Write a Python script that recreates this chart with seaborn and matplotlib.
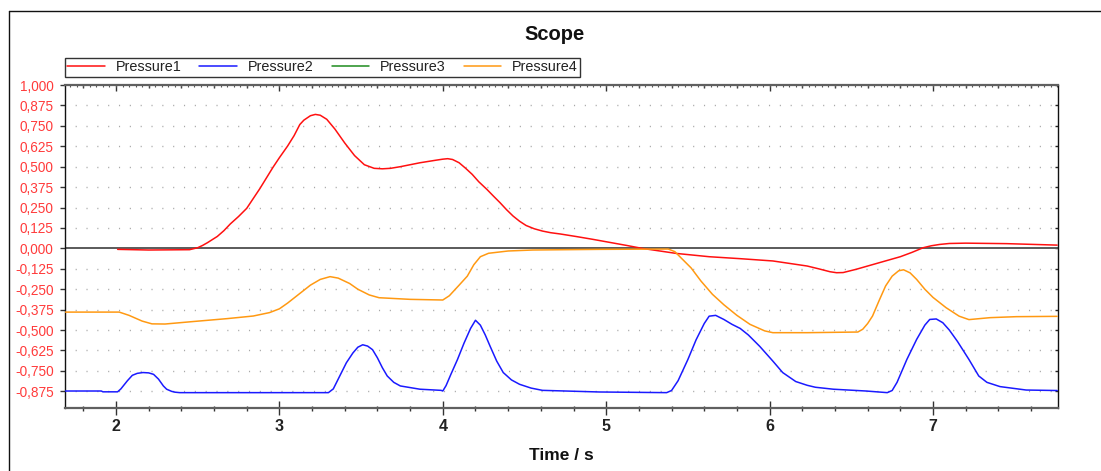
import numpy as np
import pandas as pd
import matplotlib
matplotlib.use("Agg")
import matplotlib.pyplot as plt
from matplotlib.lines import Line2D
from matplotlib.ticker import FixedLocator, MultipleLocator, FuncFormatter
import seaborn as sns

# ---- signal data (time in s, pressure in normalised units) ----
p1_t = [2.01, 2.20, 2.45, 2.50, 2.53, 2.56, 2.62, 2.66, 2.70, 2.75, 2.80, 2.88, 2.92, 2.96,
        3.00, 3.05, 3.09, 3.125, 3.15, 3.19, 3.22, 3.25, 3.29, 3.34, 3.40, 3.46, 3.52, 3.58,
        3.63, 3.68, 3.74, 3.86, 3.96, 4.00, 4.03, 4.06, 4.10, 4.14, 4.18, 4.22, 4.27, 4.31,
        4.35, 4.39, 4.43, 4.47, 4.51, 4.56, 4.61, 4.66, 4.72, 4.82, 4.92, 5.125, 5.22, 5.43,
        5.63, 5.82, 6.02, 6.23, 6.30, 6.37, 6.41, 6.45, 6.53, 6.60, 6.67, 6.80, 6.87, 6.94,
        6.99, 7.04, 7.10, 7.20, 7.45, 7.76]
p1_v = [-0.006, -0.01, -0.008, 0.004, 0.018, 0.035, 0.073, 0.108, 0.15, 0.195, 0.245, 0.365,
        0.43, 0.495, 0.555, 0.626, 0.69, 0.758, 0.785, 0.812, 0.82, 0.815, 0.79, 0.73, 0.645,
        0.568, 0.512, 0.49, 0.487, 0.49, 0.50, 0.524, 0.54, 0.546, 0.549, 0.544, 0.524, 0.49,
        0.453, 0.408, 0.361, 0.32, 0.28, 0.237, 0.198, 0.166, 0.14, 0.12, 0.106, 0.096, 0.088,
        0.072, 0.055, 0.018, 0.0, -0.031, -0.051, -0.063, -0.077, -0.108, -0.125, -0.143,
        -0.149, -0.148, -0.128, -0.108, -0.088, -0.051, -0.025, 0.004, 0.016, 0.024, 0.03,
        0.032, 0.029, 0.02]

p2_t = [1.69, 1.91, 1.92, 2.01, 2.03, 2.07, 2.10, 2.13, 2.165, 2.20, 2.23, 2.26, 2.29, 2.31,
        2.34, 2.36, 2.39, 3.30, 3.33, 3.37, 3.41, 3.45, 3.48, 3.51, 3.54, 3.57, 3.60, 3.63,
        3.66, 3.70, 3.74, 3.86, 3.99, 4.00, 4.02, 4.05, 4.09, 4.13, 4.17, 4.20, 4.23, 4.26,
        4.29, 4.33, 4.37, 4.42, 4.47, 4.54, 4.61, 4.96, 5.37, 5.40, 5.44, 5.50, 5.55, 5.60,
        5.63, 5.67, 5.72, 5.77, 5.82, 5.87, 5.94, 6.02, 6.08, 6.16, 6.23, 6.28, 6.39, 6.59,
        6.72, 6.75, 6.78, 6.84, 6.90, 6.95, 6.98, 7.02, 7.06, 7.10, 7.15, 7.22, 7.28, 7.33,
        7.41, 7.57, 7.76]
p2_v = [-0.873, -0.873, -0.878, -0.878, -0.86, -0.81, -0.777, -0.765, -0.76, -0.762, -0.771,
        -0.80, -0.842, -0.862, -0.875, -0.88, -0.883, -0.883, -0.86, -0.78, -0.70, -0.64,
        -0.605, -0.59, -0.598, -0.62, -0.67, -0.73, -0.781, -0.82, -0.842, -0.862, -0.869,
        -0.873, -0.84, -0.77, -0.68, -0.58, -0.49, -0.44, -0.47, -0.53, -0.60, -0.69, -0.76,
        -0.805, -0.832, -0.855, -0.869, -0.879, -0.883, -0.87, -0.81, -0.68, -0.56, -0.46,
        -0.415, -0.41, -0.435, -0.465, -0.49, -0.53, -0.60, -0.69, -0.76, -0.815, -0.838,
        -0.85, -0.862, -0.873, -0.883, -0.87, -0.82, -0.68, -0.557, -0.47, -0.435, -0.432,
        -0.455, -0.50, -0.57, -0.68, -0.781, -0.82, -0.846, -0.867, -0.87]

p3_t = []
p3_v = []

p4_t = [1.69, 2.02, 2.08, 2.16, 2.22, 2.30, 2.47, 2.68, 2.84, 2.94, 3.00, 3.05, 3.12, 3.19,
        3.25, 3.31, 3.36, 3.43, 3.48, 3.55, 3.61, 3.80, 4.00, 4.04, 4.10, 4.15, 4.19, 4.23,
        4.28, 4.40, 4.55, 4.96, 5.38, 5.42, 5.47, 5.52, 5.58, 5.65, 5.72, 5.80, 5.88, 5.97,
        6.02, 6.23, 6.54, 6.57, 6.60, 6.63, 6.67, 6.71, 6.75, 6.79, 6.82, 6.86, 6.90, 6.95,
        7.00, 7.08, 7.16, 7.22, 7.35, 7.51, 7.76]
p4_v = [-0.39, -0.39, -0.41, -0.445, -0.462, -0.463, -0.448, -0.43, -0.414, -0.393, -0.37,
        -0.335, -0.28, -0.225, -0.19, -0.173, -0.182, -0.215, -0.25, -0.285, -0.302, -0.312,
        -0.316, -0.29, -0.225, -0.17, -0.10, -0.051, -0.03, -0.016, -0.01, -0.006, -0.004,
        -0.02, -0.07, -0.12, -0.20, -0.281, -0.345, -0.41, -0.465, -0.505, -0.516, -0.516,
        -0.512, -0.495, -0.46, -0.414, -0.32, -0.23, -0.17, -0.137, -0.131, -0.15, -0.19,
        -0.25, -0.30, -0.363, -0.415, -0.436, -0.424, -0.418, -0.416]

series_names = ["Pressure1", "Pressure2", "Pressure3", "Pressure4"]
series_colors = ["#FF1010", "#1A1AFF", "#1E8C1E", "#FF9912"]
y_ticks = [1.0, 0.875, 0.75, 0.625, 0.5, 0.375, 0.25, 0.125, 0.0,
           -0.125, -0.25, -0.375, -0.5, -0.625, -0.75, -0.875]
x_ticks = [2, 3, 4, 5, 6, 7]

# ---- long-format table for seaborn ----
frames = []
for name, t, v in zip(series_names, [p1_t, p2_t, p3_t, p4_t], [p1_v, p2_v, p3_v, p4_v]):
    frames.append(pd.DataFrame({"Time": t, "Value": v, "Signal": name}))
df = pd.concat([f for f in frames if len(f)], ignore_index=True)

sns.set_style("white")
plt.rcParams["font.family"] = ["Liberation Sans", "DejaVu Sans"]

W, H = 1101, 471
fig = plt.figure(figsize=(W / 100, H / 100), dpi=100)
ax = fig.add_axes([65 / W, 1 - 408 / H, (1058 - 65) / W, (408 - 85) / H])

# dotted horizontal grid + zero line
for yv in y_ticks:
    if yv in (0.0, 1.0):
        continue
    ax.axhline(yv, color="#A8A8A8", lw=1.0, ls=(0.5, (0.8, 7.0)), zorder=0)
ax.axhline(0.0, color="#5A5A5A", lw=1.4, zorder=1)

palette = dict(zip(series_names, series_colors))
sns.lineplot(data=df, x="Time", y="Value", hue="Signal", palette=palette,
             estimator=None, sort=False, lw=1.1, legend=False, ax=ax, zorder=3)

ax.set_xlim(1.688, 7.765)
ax.set_ylim(-0.977, 1.0)
ax.set_xlabel("")
ax.set_ylabel("")

# y axis: red comma-decimal labels
ax.yaxis.set_major_locator(FixedLocator(y_ticks))
ax.yaxis.set_major_formatter(FuncFormatter(lambda v, p: f"{v:.3f}".replace(".", ",")))
ax.tick_params(axis="y", which="major", direction="out", length=3.6, width=1.0,
               colors="#333333", labelcolor="#FF3B3B", labelsize=9.8, pad=4.5, left=True)

# x axis: integer majors, 0.2 s minors crossing the spine
ax.xaxis.set_major_locator(FixedLocator(x_ticks))
ax.xaxis.set_minor_locator(MultipleLocator(0.2))
ax.tick_params(axis="x", which="major", direction="inout", length=9.5, width=1.0,
               colors="#333333", labelsize=11.5, pad=3, bottom=True)
ax.tick_params(axis="x", which="minor", direction="inout", length=3.6, width=1.0,
               colors="#333333", bottom=True)
for lbl in ax.get_xticklabels():
    lbl.set_fontweight("bold")
    lbl.set_color("#222222")

for side in ("left", "right"):
    ax.spines[side].set_color("#111111")
    ax.spines[side].set_linewidth(1.0)
for side in ("top", "bottom"):
    ax.spines[side].set_color("#606060")
    ax.spines[side].set_linewidth(1.6)

# top ruler: inward ticks at integers, 0.2 s and 0.04 s
top1 = ax.secondary_xaxis("top")
top1.xaxis.set_major_locator(FixedLocator(x_ticks))
top1.xaxis.set_minor_locator(MultipleLocator(0.2))
top1.tick_params(which="major", direction="in", length=4.5, width=1.0, colors="#333333",
                 labeltop=False)
top1.tick_params(which="minor", direction="in", length=2.4, width=1.0, colors="#333333")
top1.spines["top"].set_visible(False)
top2 = ax.secondary_xaxis("top")
top2.xaxis.set_major_locator(MultipleLocator(0.04))
top2.tick_params(which="major", direction="in", length=1.2, width=0.8, colors="#555555",
                 labeltop=False)
top2.spines["top"].set_visible(False)

# right side: small inward ticks at the grid levels
right = ax.secondary_yaxis("right")
right.yaxis.set_major_locator(FixedLocator(y_ticks))
right.tick_params(direction="in", length=2.2, width=1.0, colors="#222222", labelright=False)
right.spines["right"].set_visible(False)

# legend row above the plot
handles = [Line2D([], [], color=c, lw=1.1) for c in series_colors]
leg = ax.legend(handles, series_names, ncol=4, loc="lower left",
                bbox_to_anchor=(65 / W, 1 - 76.5 / H), bbox_transform=fig.transFigure,
                borderaxespad=0, fontsize=10.4, frameon=True, fancybox=False,
                handlelength=2.6, handletextpad=0.75, columnspacing=1.25,
                borderpad=0.15, framealpha=1)
leg.get_frame().set_edgecolor("#333333")
leg.get_frame().set_linewidth(1.0)
for txt in leg.get_texts():
    txt.set_color("#222222")

# titles
fig.text(555 / W, 1 - 35 / H, "Scope", ha="center", va="center",
         fontsize=14.5, fontweight="bold", color="#111111")
fig.text(561 / W, 1 - 456 / H, "Time / s", ha="center", va="center",
         fontsize=12.5, fontweight="bold", color="#111111")

# outer panel frame (left and top edges)
fig.add_artist(Line2D([8.5 / W, 8.5 / W], [0, 1 - 11 / H], transform=fig.transFigure,
                      color="#111111", lw=1.0))
fig.add_artist(Line2D([8.5 / W, 1], [1 - 11 / H, 1 - 11 / H], transform=fig.transFigure,
                      color="#111111", lw=1.0))

fig.savefig("out.png", dpi=100)
